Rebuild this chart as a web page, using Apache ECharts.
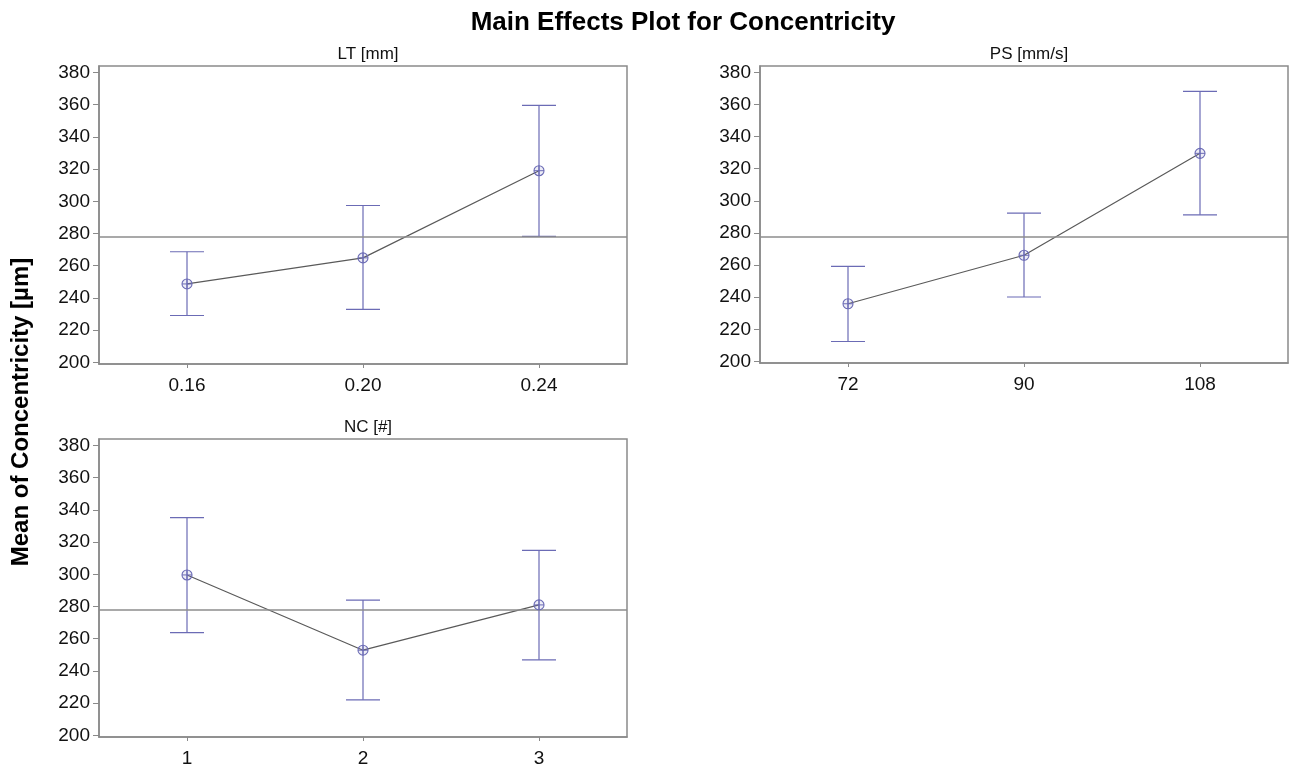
<!DOCTYPE html>
<html>
<head>
<meta charset="utf-8">
<title>Main Effects Plot for Concentricity</title>
<script src="https://cdn.jsdelivr.net/npm/echarts@6/dist/echarts.min.js"></script>
<style>
  html, body { margin: 0; padding: 0; background: #fff; }
  #main { width: 1289px; height: 770px; }
</style>
</head>
<body>
<div id="main"></div>
<script>
// factor levels
const ltLabels = ["0.16", "0.20", "0.24"];
const psLabels = ["72", "90", "108"];
const ncLabels = ["1", "2", "3"];

// means and interval ends per level
const ltMean = [248.7, 264.9, 319.0];
const ltLow = [229.1, 232.9, 278.2];
const ltHigh = [268.7, 297.4, 359.6];

const psMean = [235.9, 266.1, 329.6];
const psLow = [212.4, 240.1, 291.3];
const psHigh = [259.2, 292.3, 368.2];

const ncMean = [299.6, 252.9, 281.0];
const ncLow = [263.8, 222.1, 246.9];
const ncHigh = [335.2, 284.0, 314.8];

const grandMean = 277.8;
const yTicks = [200, 220, 240, 260, 280, 300, 320, 340, 360, 380];

const FONT = "Liberation Sans, Arial, sans-serif";
const BAR_COLOR = "#6b6bb5";
const FRAME = "#8a8a8a";

const panels = [
  { title: "LT [mm]", labels: ltLabels, mean: ltMean, low: ltLow, high: ltHigh,
    grid: { left: 99, top: 66, width: 528, height: 298 } },
  { title: "PS [mm/s]", labels: psLabels, mean: psMean, low: psLow, high: psHigh,
    grid: { left: 760, top: 66, width: 528, height: 297 } },
  { title: "NC [#]", labels: ncLabels, mean: ncMean, low: ncLow, high: ncHigh,
    grid: { left: 99, top: 439, width: 528, height: 298 } },
];

function errorBar(params, api) {
  const x = api.value(0);
  const lo = api.coord([x, api.value(1)]);
  const hi = api.coord([x, api.value(2)]);
  const half = 17;
  const style = { stroke: BAR_COLOR, lineWidth: 1.2 };
  return {
    type: "group",
    children: [
      { type: "line", shape: { x1: hi[0], y1: hi[1], x2: lo[0], y2: lo[1] }, style },
      { type: "line", shape: { x1: hi[0] - half, y1: hi[1], x2: hi[0] + half, y2: hi[1] }, style },
      { type: "line", shape: { x1: lo[0] - half, y1: lo[1], x2: lo[0] + half, y2: lo[1] }, style },
    ],
  };
}

function meanMarker(params, api) {
  const p = api.coord([api.value(0), api.value(1)]);
  const r = 5;
  const style = { stroke: BAR_COLOR, lineWidth: 1.1, fill: "rgba(107,107,181,0.12)" };
  return {
    type: "group",
    children: [
      { type: "circle", shape: { cx: p[0], cy: p[1], r }, style },
      { type: "line", shape: { x1: p[0] - r, y1: p[1], x2: p[0] + r, y2: p[1] }, style: { stroke: BAR_COLOR, lineWidth: 1 } },
      { type: "line", shape: { x1: p[0], y1: p[1] - r, x2: p[0], y2: p[1] + r }, style: { stroke: BAR_COLOR, lineWidth: 1 } },
    ],
  };
}

const titles = [
  {
    text: "Main Effects Plot for Concentricity",
    left: 678, top: 5, textAlign: "center",
    textStyle: { fontFamily: FONT, fontSize: 26, fontWeight: "bold", color: "#000" },
  },
];
const grids = [];
const xAxes = [];
const yAxes = [];
const series = [];

panels.forEach((p, i) => {
  titles.push({
    text: p.title,
    left: p.grid.left + p.grid.width / 2,
    top: p.grid.top - 25,
    textAlign: "center",
    textStyle: { fontFamily: FONT, fontSize: 17, fontWeight: "normal", color: "#111" },
  });
  grids.push(Object.assign({ show: true, borderColor: FRAME, borderWidth: 1.5, backgroundColor: "#fff" }, p.grid));
  xAxes.push({
    type: "category",
    gridIndex: i,
    data: p.labels,
    boundaryGap: true,
    axisLine: { show: true, lineStyle: { color: FRAME, width: 1.5 } },
    axisTick: { show: true, alignWithLabel: true, length: 4, lineStyle: { color: FRAME } },
    axisLabel: { fontFamily: FONT, fontSize: 19, color: "#111", margin: 12 },
    splitLine: { show: false },
  });
  yAxes.push({
    type: "value",
    gridIndex: i,
    min: 199,
    max: 384,
    axisLine: { show: true, lineStyle: { color: FRAME, width: 1.5 } },
    axisTick: { show: true, length: 6, customValues: yTicks, lineStyle: { color: FRAME } },
    axisLabel: { fontFamily: FONT, fontSize: 19, color: "#111", margin: 9, customValues: yTicks },
    splitLine: { show: false },
  });
  series.push({
    type: "line",
    xAxisIndex: i,
    yAxisIndex: i,
    data: p.mean,
    symbol: "none",
    lineStyle: { color: "#5a5a5a", width: 1.2 },
    z: 3,
    silent: true,
    markLine: {
      silent: true,
      symbol: "none",
      label: { show: false },
      lineStyle: { color: "#8c8c8c", type: "solid", width: 1.5 },
      data: [{ yAxis: grandMean }],
    },
  });
  series.push({
    type: "custom",
    xAxisIndex: i,
    yAxisIndex: i,
    renderItem: errorBar,
    data: p.labels.map((_, k) => [k, p.low[k], p.high[k]]),
    z: 4,
    silent: true,
  });
  series.push({
    type: "custom",
    xAxisIndex: i,
    yAxisIndex: i,
    renderItem: meanMarker,
    data: p.mean.map((v, k) => [k, v]),
    z: 5,
    silent: true,
  });
});

const chart = echarts.init(document.getElementById("main"));
chart.setOption({
  backgroundColor: "#fff",
  animation: false,
  title: titles,
  grid: grids,
  xAxis: xAxes,
  yAxis: yAxes,
  series: series,
  graphic: [
    {
      type: "text",
      x: 21,
      y: 412,
      rotation: Math.PI / 2,
      style: {
        text: "Mean of Concentricity [µm]",
        font: "bold 24px " + FONT,
        fill: "#000",
        textAlign: "center",
        textVerticalAlign: "middle",
      },
    },
  ],
});
window.addEventListener("resize", () => chart.resize());
</script>
</body>
</html>
